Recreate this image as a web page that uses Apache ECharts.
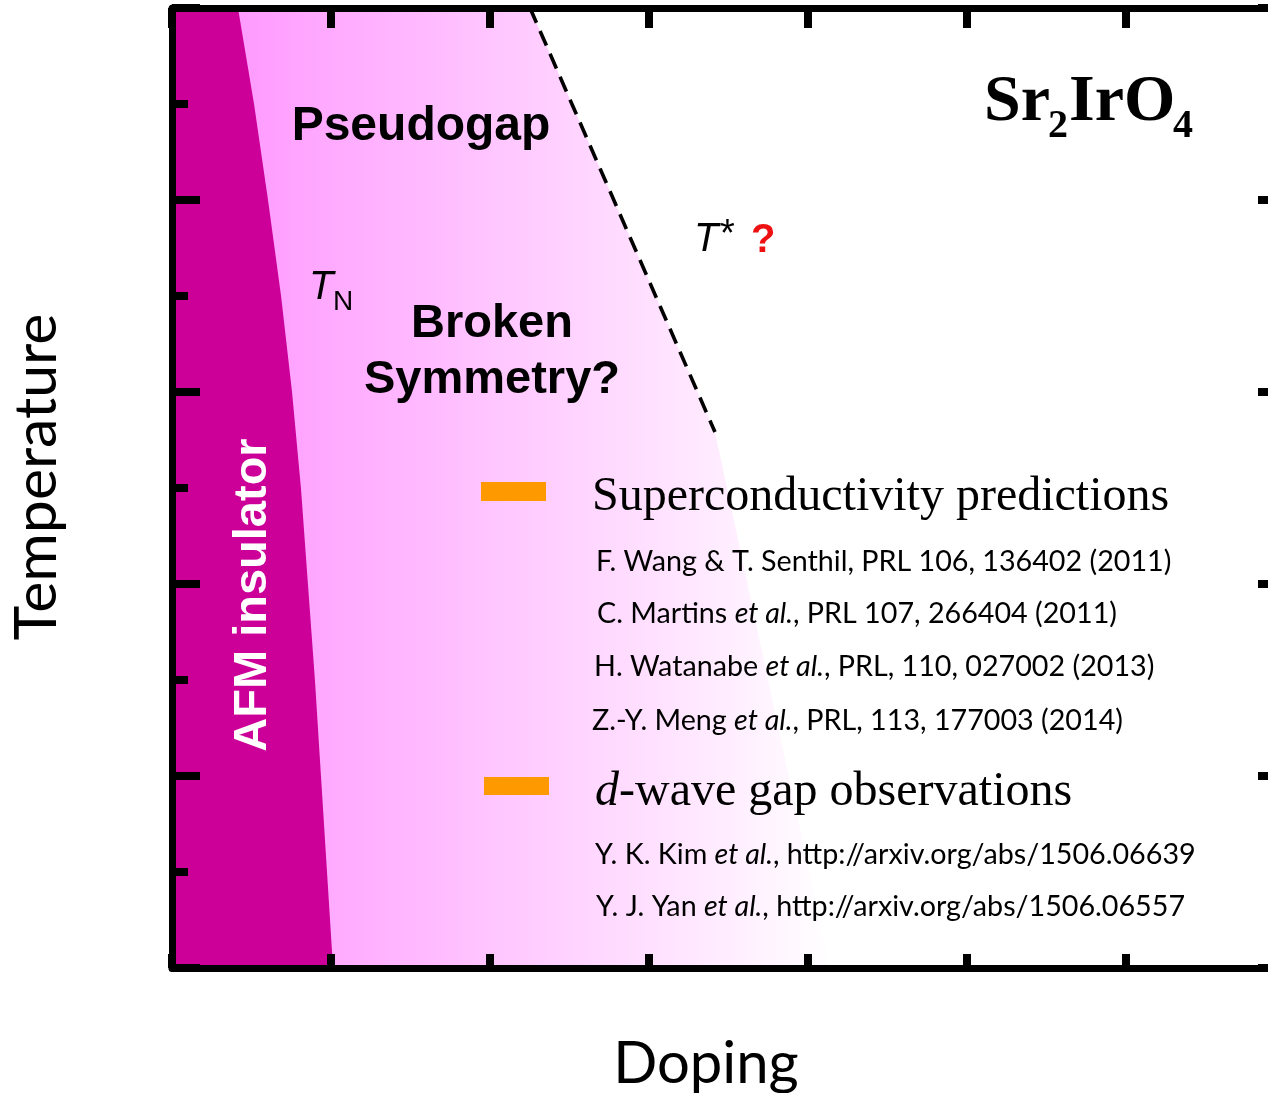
<!DOCTYPE html>
<html><head><meta charset="utf-8">
<script src="https://cdn.jsdelivr.net/npm/echarts@6/dist/echarts.min.js"></script>
<style>html,body{margin:0;padding:0;background:#fff;overflow:hidden}#c{width:1268px;height:1093px}</style>
</head><body><div id="c"></div>
<script>
// Néel temperature boundary (edge of AFM insulator), doping vs temperature (arb. units)
const tnTemperature = [10, 9, 8, 7, 6, 5, 4, 3, 2, 1, 0];
const tnDoping = [0.415, 0.516, 0.604, 0.686, 0.755, 0.811, 0.855, 0.899, 0.937, 0.975, 1.013];
// T* crossover line (dashed)
const tStarDoping = [2.252, 3.415];
const tStarTemperature = [10, 5.583];
// fading outer edge of pseudogap shading below the T* line
const pgEdgeDoping = [3.415, 4.138];
const pgEdgeTemperature = [5.583, 0];
// axis extents
const X_MAX = 6.95;
const Y_MAX = 10;

const chart = echarts.init(document.getElementById('c'), null, {renderer: 'canvas'});

function zip(xs, ys) { return xs.map((x, i) => [x, ys[i]]); }
const tnPoints = zip(tnDoping, tnTemperature);
const tStarPoints = zip(tStarDoping, tStarTemperature);
const pgEdgePoints = zip(pgEdgeDoping, pgEdgeTemperature);

const CAL = 'Lato, "Open Sans", sans-serif';
const ARIAL = '"Liberation Sans", Arial, sans-serif';
const TIMES = '"Liberation Serif", "Times New Roman", serif';

function refLine(x, y, parts) {
  return {
    type: 'text', z: 100, x: x, y: y,
    style: {
      text: parts, fill: '#000', fontFamily: CAL, fontSize: 28.7,
      verticalAlign: 'middle', align: 'left',
      rich: { i: {fontStyle: 'italic', fontFamily: CAL, fontSize: 28.7, fill: '#000'} }
    }
  };
}

const option = {
  backgroundColor: '#fff',
  animation: false,
  grid: {left: 172, top: 8, width: 1105, height: 960, containLabel: false, outerBoundsMode: 'none'},
  xAxis: [
    {type: 'value', min: 0, max: X_MAX, interval: 1, position: 'bottom', z: 10,
     axisLine: {onZero: false, lineStyle: {color: '#000', width: 7}},
     axisTick: {inside: true, length: 14, lineStyle: {color: '#000', width: 8}},
     axisLabel: {show: false}, splitLine: {show: false}},
    {type: 'value', min: 0, max: X_MAX, interval: 1, position: 'top', z: 10,
     axisLine: {onZero: false, lineStyle: {color: '#000', width: 7}},
     axisTick: {inside: true, length: 20, lineStyle: {color: '#000', width: 8}},
     axisLabel: {show: false}, splitLine: {show: false}}
  ],
  yAxis: [
    {type: 'value', min: 0, max: Y_MAX, interval: 2, position: 'left', z: 10,
     axisLine: {onZero: false, lineStyle: {color: '#000', width: 7}},
     axisTick: {inside: true, length: 28, lineStyle: {color: '#000', width: 8}},
     minorTick: {show: true, splitNumber: 2, length: 16, lineStyle: {color: '#000', width: 8}},
     axisLabel: {show: false}, splitLine: {show: false}},
    {type: 'value', min: 0, max: Y_MAX, interval: 2, position: 'right', z: 10,
     axisLine: {onZero: false, lineStyle: {color: '#000', width: 7}},
     axisTick: {inside: true, length: 19, lineStyle: {color: '#000', width: 8}},
     axisLabel: {show: false}, splitLine: {show: false}}
  ],
  series: [
    { // pseudogap shading
      type: 'custom', xAxisIndex: 0, yAxisIndex: 0, z: 2, silent: true,
      data: tStarPoints,
      renderItem: function (params, api) {
        if (params.dataIndex !== 0) return null;
        const pts = [];
        pts.push(api.coord([0, Y_MAX]));
        tStarPoints.forEach(p => pts.push(api.coord(p)));
        pgEdgePoints.forEach(p => pts.push(api.coord(p)));
        pts.push(api.coord([0, 0]));
        const g0 = api.coord([0.36, 0])[0];
        const g1 = api.coord([4.15, 0])[0];
        return {
          type: 'polygon', shape: {points: pts},
          style: {fill: new echarts.graphic.LinearGradient(g0, 0, g1, 0,
            [{offset: 0, color: '#ff99ff'}, {offset: 1, color: '#ffffff'}], true)}
        };
      }
    },
    { // AFM insulator
      type: 'custom', xAxisIndex: 0, yAxisIndex: 0, z: 3, silent: true,
      data: tnPoints,
      renderItem: function (params, api) {
        if (params.dataIndex !== 0) return null;
        const pts = [api.coord([0, Y_MAX])];
        tnPoints.forEach(p => pts.push(api.coord(p)));
        pts.push(api.coord([0, 0]));
        return {type: 'polygon', shape: {points: pts, smooth: 0}, style: {fill: '#cc0099'}};
      }
    },
    { // T* dashed line
      type: 'line', xAxisIndex: 0, yAxisIndex: 0, z: 4, silent: true,
      data: tStarPoints, symbol: 'none',
      lineStyle: {color: '#000', width: 3.6, type: [16, 9]}
    }
  ],
  graphic: [
    {type: 'text', z: 100, x: 421, y: 127, style: {text: 'Pseudogap', fill: '#000', fontFamily: ARIAL, fontWeight: 'bold', fontSize: 48, align: 'center', verticalAlign: 'middle'}},
    {type: 'text', z: 100, x: 492, y: 324, style: {text: 'Broken', fill: '#000', fontFamily: ARIAL, fontWeight: 'bold', fontSize: 47, align: 'center', verticalAlign: 'middle'}},
    {type: 'text', z: 100, x: 492, y: 380, style: {text: 'Symmetry?', fill: '#000', fontFamily: ARIAL, fontWeight: 'bold', fontSize: 47, align: 'center', verticalAlign: 'middle'}},
    {type: 'text', z: 100, x: 309, y: 288, style: {text: 'T', fill: '#000', fontFamily: ARIAL, fontStyle: 'italic', fontSize: 40, align: 'left', verticalAlign: 'middle'}},
    {type: 'text', z: 100, x: 333, y: 302, style: {text: 'N', fill: '#000', fontFamily: ARIAL, fontSize: 28, align: 'left', verticalAlign: 'middle'}},
    {type: 'text', z: 100, x: 694, y: 240, style: {text: 'T', fill: '#000', fontFamily: ARIAL, fontStyle: 'italic', fontSize: 40, align: 'left', verticalAlign: 'middle'}},
    {type: 'text', z: 100, x: 720, y: 236, style: {text: '*', fill: '#000', fontFamily: ARIAL, fontSize: 38, align: 'left', verticalAlign: 'middle'}},
    {type: 'text', z: 100, x: 751, y: 241, style: {text: '?', fill: '#ee1111', fontFamily: ARIAL, fontWeight: 'bold', fontSize: 40, align: 'left', verticalAlign: 'middle'}},
    {type: 'text', z: 100, x: 984, y: 103, style: {text: 'Sr', fill: '#000', fontFamily: TIMES, fontWeight: 'bold', fontSize: 66, align: 'left', verticalAlign: 'middle'}},
    {type: 'text', z: 100, x: 1048, y: 127, style: {text: '2', fill: '#000', fontFamily: TIMES, fontWeight: 'bold', fontSize: 40, align: 'left', verticalAlign: 'middle'}},
    {type: 'text', z: 100, x: 1069, y: 103, style: {text: 'IrO', fill: '#000', fontFamily: TIMES, fontWeight: 'bold', fontSize: 66, align: 'left', verticalAlign: 'middle'}},
    {type: 'text', z: 100, x: 1173, y: 127, style: {text: '4', fill: '#000', fontFamily: TIMES, fontWeight: 'bold', fontSize: 40, align: 'left', verticalAlign: 'middle'}},
    {type: 'text', z: 100, x: 253, y: 595, rotation: Math.PI / 2, style: {text: 'AFM insulator', fill: '#fff', fontFamily: ARIAL, fontWeight: 'bold', fontSize: 47, align: 'center', verticalAlign: 'middle'}},
    {type: 'text', z: 100, x: 37, y: 477, rotation: Math.PI / 2, style: {text: 'Temperature', fill: '#000', fontFamily: CAL, fontSize: 59, align: 'center', verticalAlign: 'middle'}},
    {type: 'text', z: 100, x: 706, y: 1064, style: {text: 'Doping', fill: '#000', fontFamily: CAL, fontSize: 58, align: 'center', verticalAlign: 'middle'}},
    {type: 'rect', z: 100, shape: {x: 481, y: 482, width: 65, height: 19}, style: {fill: '#ff9900'}},
    {type: 'rect', z: 100, shape: {x: 484, y: 777, width: 65, height: 18}, style: {fill: '#ff9900'}},
    {type: 'text', z: 100, x: 592, y: 497, style: {text: 'Superconductivity predictions', fill: '#000', fontFamily: TIMES, fontSize: 48, align: 'left', verticalAlign: 'middle'}},
    {type: 'text', z: 100, x: 595, y: 792, style: {text: '{i|d}-wave gap observations', fill: '#000', fontFamily: TIMES, fontSize: 48, align: 'left', verticalAlign: 'middle',
      rich: {i: {fontStyle: 'italic', fontFamily: TIMES, fontSize: 48, fill: '#000'}}}},
    refLine(596, 562, 'F. Wang & T. Senthil, PRL 106, 136402 (2011)'),
    refLine(597, 614, 'C. Martins {i|et al.}, PRL 107, 266404 (2011)'),
    refLine(594, 667, 'H. Watanabe {i|et al.}, PRL, 110, 027002 (2013)'),
    refLine(592, 721, 'Z.-Y. Meng {i|et al.}, PRL, 113, 177003 (2014)'),
    refLine(595, 855, 'Y. K. Kim {i|et al.}, http://arxiv.org/abs/1506.06639'),
    refLine(596, 907, 'Y. J. Yan {i|et al.}, http://arxiv.org/abs/1506.06557')
  ]
};
chart.setOption(option);
</script></body></html>
